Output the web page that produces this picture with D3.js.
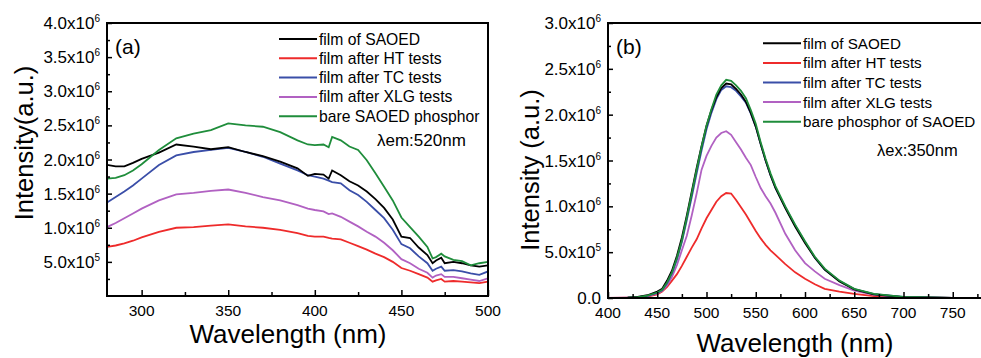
<!DOCTYPE html>
<meta charset="utf-8">
<style>
body { margin: 0; background: #fff; }
svg { font-family: "Liberation Sans", Arial, sans-serif; }
</style>
<head>
<script src="https://d3js.org/d3.v7.min.js"></script>
</head>
<body>
<div id="chart"></div>

<script>
// ---- panel (a): excitation spectra, lambda em 520nm (values in 1e6 a.u.)
var waveA = [280,285,290,295,300,310,320,330,340,350,360,370,380,390,396,400,405,408,410,415,420,425,430,435,440,445,450,455,460,465,468,470,473,475,480,485,490,495,500];
var filmA   = [1.92,1.90,1.90,1.95,2.01,2.10,2.22,2.19,2.15,2.18,2.11,2.05,1.97,1.87,1.76,1.79,1.78,1.72,1.84,1.77,1.68,1.62,1.53,1.42,1.29,1.12,0.87,0.85,0.71,0.60,0.48,0.52,0.56,0.48,0.50,0.48,0.45,0.43,0.45];
var htA     = [0.72,0.74,0.77,0.81,0.86,0.94,1.00,1.01,1.03,1.05,1.02,1.00,0.97,0.92,0.88,0.87,0.87,0.85,0.84,0.83,0.78,0.73,0.68,0.62,0.57,0.50,0.41,0.37,0.32,0.27,0.21,0.23,0.25,0.21,0.22,0.21,0.20,0.19,0.21];
var tcA     = [1.37,1.45,1.53,1.62,1.72,1.92,2.06,2.11,2.14,2.17,2.11,2.04,1.94,1.84,1.77,1.75,1.72,1.69,1.67,1.65,1.55,1.48,1.38,1.26,1.14,0.97,0.76,0.70,0.58,0.48,0.37,0.40,0.43,0.37,0.38,0.36,0.33,0.31,0.36];
var xlgA    = [1.01,1.07,1.14,1.21,1.28,1.40,1.49,1.51,1.54,1.56,1.51,1.45,1.40,1.33,1.28,1.26,1.24,1.20,1.21,1.16,1.09,1.02,0.94,0.87,0.78,0.67,0.54,0.48,0.40,0.34,0.27,0.30,0.32,0.28,0.28,0.26,0.24,0.22,0.26];
var bareA   = [1.72,1.73,1.77,1.84,1.93,2.14,2.31,2.38,2.43,2.53,2.50,2.48,2.40,2.28,2.22,2.21,2.22,2.18,2.33,2.28,2.19,2.14,1.99,1.80,1.60,1.40,1.15,1.01,0.87,0.72,0.55,0.57,0.62,0.58,0.53,0.51,0.45,0.48,0.50];

// ---- panel (b): emission spectra, lambda ex 350nm (values in 1e6 a.u.)
var waveB = [400,420,430,440,450,455,460,465,470,475,480,485,490,495,500,505,510,515,520,525,530,535,540,545,550,555,560,565,570,580,590,600,610,620,635,650,670,700,750,800];
var filmB = [0,0.005,0.012,0.03,0.07,0.10,0.19,0.30,0.46,0.66,0.90,1.16,1.42,1.66,1.88,2.05,2.19,2.29,2.34,2.33,2.28,2.22,2.14,2.02,1.87,1.68,1.50,1.34,1.20,0.98,0.78,0.60,0.44,0.31,0.18,0.095,0.04,0.01,0.002,0];
var htB   = [0,0.003,0.006,0.015,0.04,0.07,0.12,0.19,0.26,0.35,0.45,0.55,0.64,0.76,0.87,0.96,1.05,1.11,1.145,1.14,1.07,0.99,0.91,0.82,0.73,0.65,0.58,0.52,0.47,0.37,0.28,0.21,0.15,0.10,0.07,0.045,0.02,0.006,0.001,0];
var tcB   = [0,0.004,0.01,0.022,0.055,0.085,0.16,0.27,0.42,0.61,0.85,1.10,1.36,1.61,1.84,2.02,2.17,2.27,2.31,2.30,2.26,2.20,2.13,2.01,1.87,1.68,1.50,1.34,1.20,0.99,0.79,0.61,0.44,0.31,0.185,0.098,0.043,0.011,0.002,0];
var xlgB  = [0,0.004,0.008,0.02,0.05,0.08,0.14,0.23,0.36,0.52,0.68,0.90,1.14,1.40,1.55,1.66,1.75,1.80,1.82,1.78,1.70,1.62,1.53,1.45,1.32,1.20,1.11,1.03,0.93,0.70,0.52,0.38,0.29,0.21,0.14,0.08,0.035,0.01,0.002,0];
var bareB = [0,0.005,0.01,0.025,0.06,0.09,0.17,0.28,0.44,0.63,0.88,1.14,1.40,1.65,1.88,2.06,2.22,2.32,2.38,2.37,2.32,2.26,2.18,2.05,1.90,1.70,1.52,1.36,1.22,1.00,0.80,0.62,0.45,0.32,0.19,0.10,0.045,0.012,0.002,0];

var namesA = ["film of SAOED","film after HT tests","film after TC tests","film after XLG tests","bare SAOED phosphor"];
var namesB = ["film of SAOED","film after HT tests","film after TC tests","film after XLG tests","bare phosphor of SAOED"];
var colors = ["#000000","#ee2b2b","#3a4ea8","#b161c2","#1f8d3b"];
var drawOrder = [1,3,2,0,4];
</script>

<script>
var svg = d3.select("#chart").append("svg")
	.attr("width", 981)
	.attr("height", 358);

function sciLabel(sel, v) {
	if (v === 0) { sel.text("0.0"); return; }
	var e = Math.floor(Math.log10(v) + 1e-9);
	var m = v / Math.pow(10, e);
	sel.text(m.toFixed(1) + "x10");
	sel.append("tspan").attr("dy", -7).attr("font-size", 10).text(e);
}

function panel(opt) {
	var x = d3.scaleLinear().domain(opt.xdom).range([opt.left, opt.right]);
	var y = d3.scaleLinear().domain(opt.ydom).range([opt.bottom, opt.top]);
	var g = svg.append("g");

	var clipId = "clip" + opt.id;
	g.append("clipPath").attr("id", clipId)
		.append("rect")
		.attr("x", opt.left).attr("y", opt.top)
		.attr("width", opt.right - opt.left).attr("height", opt.bottom - opt.top);

	// curves
	var line = d3.line()
		.x(function(d) { return x(d[0]); })
		.y(function(d) { return y(d[1] * 1e6); });
	drawOrder.forEach(function(i) {
		var pts = opt.wave.map(function(w, k) { return [w, opt.series[i][k]]; });
		g.append("path")
			.attr("clip-path", "url(#" + clipId + ")")
			.attr("d", line(pts))
			.attr("fill", "none")
			.attr("stroke", colors[i])
			.attr("stroke-width", 1.8);
	});

	// inward ticks
	var xt = d3.axisBottom(x).tickValues(opt.xMajor).tickSize(-6).tickFormat("");
	var xm = d3.axisBottom(x).tickValues(opt.xMinor).tickSize(-4).tickFormat("");
	var yt = d3.axisLeft(y).tickValues(opt.yMajor).tickSize(-5).tickFormat("");
	var ym = d3.axisLeft(y).tickValues(opt.yMinor).tickSize(-3).tickFormat("");
	[xt, xm].forEach(function(a) {
		g.append("g").attr("transform", "translate(0," + opt.bottom + ")").call(a)
			.call(function(s) { s.select(".domain").remove(); s.selectAll("line").attr("stroke-width", 1.5); });
	});
	[yt, ym].forEach(function(a) {
		g.append("g").attr("transform", "translate(" + opt.left + ",0)").call(a)
			.call(function(s) { s.select(".domain").remove(); s.selectAll("line").attr("stroke-width", 1.5); });
	});

	// frame
	g.append("rect")
		.attr("x", opt.left).attr("y", opt.top)
		.attr("width", opt.right - opt.left).attr("height", opt.bottom - opt.top)
		.attr("fill", "none").attr("stroke", "#000").attr("stroke-width", 2);

	// tick labels
	opt.xMajor.forEach(function(v) {
		g.append("text")
			.attr("x", x(v)).attr("y", opt.bottom + 20)
			.attr("text-anchor", "middle").attr("font-size", 15.5)
			.text(v);
	});
	opt.yLabels.forEach(function(v) {
		g.append("text")
			.attr("x", opt.left - 7).attr("y", y(v) + 6)
			.attr("text-anchor", "end").attr("font-size", 17)
			.call(sciLabel, v);
	});

	// axis titles
	g.append("text")
		.attr("x", opt.xtx).attr("y", opt.xty)
		.attr("text-anchor", "middle").attr("font-size", 26)
		.text("Wavelength (nm)");
	g.append("text")
		.attr("transform", "translate(" + opt.ytx + "," + opt.yty + ") rotate(-90)")
		.attr("text-anchor", "middle").attr("font-size", 25.5)
		.text(opt.ytitle);

	// panel tag
	g.append("text")
		.attr("x", opt.left + 8).attr("y", opt.top + 31)
		.attr("font-size", 21)
		.text(opt.tag);

	// legend
	opt.names.forEach(function(n, i) {
		var ly = opt.legY + i * opt.legStep;
		g.append("line")
			.attr("x1", opt.legX - 40).attr("x2", opt.legX - 2)
			.attr("y1", ly).attr("y2", ly)
			.attr("stroke", colors[i]).attr("stroke-width", 2);
		g.append("text")
			.attr("x", opt.legX).attr("y", ly + 5.5)
			.attr("font-size", opt.legFont)
			.text(n);
	});
	g.append("text")
		.attr("x", opt.noteX).attr("y", opt.noteY)
		.attr("font-size", opt.noteFont)
		.text(opt.note);
}

panel({
	id: "a", tag: "(a)", left: 107, right: 488, top: 23, bottom: 296,
	xdom: [280, 500], ydom: [0, 4e6],
	wave: waveA, series: [filmA, htA, tcA, xlgA, bareA], names: namesA,
	xMajor: [300, 350, 400, 450, 500], xMinor: [325, 375, 425, 475],
	yMajor: d3.range(0.5e6, 4.01e6, 0.5e6), yMinor: d3.range(0.25e6, 4e6, 0.5e6),
	yLabels: d3.range(0.5e6, 4.01e6, 0.5e6),
	xtx: 288, xty: 343, ytx: 33, yty: 143, ytitle: "Intensity(a.u.)",
	legX: 319, legY: 39, legStep: 19.3, legFont: 15.7,
	note: "\u03bbem:520nm", noteX: 377, noteY: 145.5, noteFont: 17
});

panel({
	id: "b", tag: "(b)", left: 608, right: 1002, top: 23, bottom: 298,
	xdom: [400, 800], ydom: [0, 3e6],
	wave: waveB, series: [filmB, htB, tcB, xlgB, bareB], names: namesB,
	xMajor: [400, 450, 500, 550, 600, 650, 700, 750], xMinor: [425, 475, 525, 575, 625, 675, 725, 775],
	yMajor: d3.range(0, 3.01e6, 0.5e6), yMinor: d3.range(0.25e6, 3e6, 0.5e6),
	yLabels: d3.range(0, 3.01e6, 0.5e6),
	xtx: 795, xty: 352, ytx: 539, yty: 170, ytitle: "Intensity (a.u.)",
	legX: 803, legY: 43.3, legStep: 19.6, legFont: 15.2,
	note: "\u03bbex:350nm", noteX: 877, noteY: 156, noteFont: 16.5
});
</script>
</body>
